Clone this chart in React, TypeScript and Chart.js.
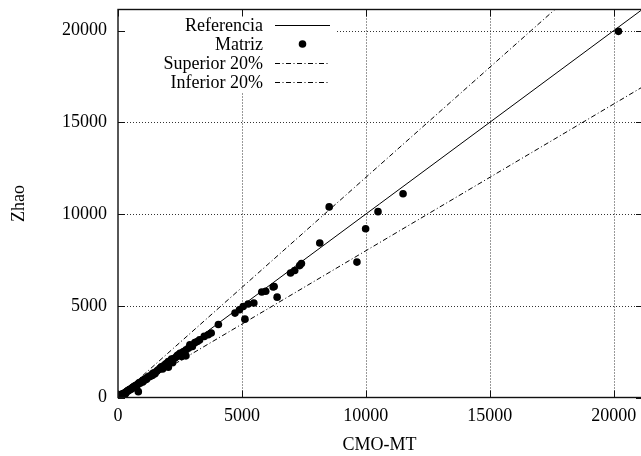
import React, { useEffect, useRef } from "react";
import { Chart, registerables } from "chart.js";

Chart.register(...registerables);

// ---- data ----
const cmoMt = [
  20190, 11500, 10490, 9990, 9640, 8520, 8140, 7400, 7330, 7130, 6960, 6420, 6300, 6260,
  5960, 5800, 5480, 5250, 5050, 4900, 4720, 5120, 4050, 3760, 3640, 3480, 3290, 3200, 3100,
  2900, 2750, 2740, 2650, 2600, 2570, 2500, 2400, 2370, 2250, 2200, 2160, 2030, 2030, 1900,
  1830, 1800, 1700, 1670, 1600, 1550, 1490, 1400, 1350, 1290, 1200, 1150, 1100, 1090, 1000,
  1000, 950, 890, 820, 800, 750, 700, 700, 650, 600, 550, 500, 450, 400, 350, 300, 300, 250,
  200, 150, 100, 80, 50, 10, 0,
  3000, 2850, 2450, 2300, 2100, 1950, 1750, 1450, 1250, 1050, 900, 850, 620, 480, 420, 380,
  330, 270, 220, 170, 120, 60, 30, 1380, 1150, 760, 560, 260,
];
const zhao = [
  19960, 11110, 10130, 9200, 7380, 10390, 8420, 7300, 7190, 6920, 6790, 5470, 6050, 6020,
  5790, 5750, 5150, 5100, 4960, 4780, 4600, 4270, 3980, 3520, 3420, 3330, 3140, 3050, 2990,
  2870, 2600, 2270, 2500, 2450, 2230, 2410, 2300, 2240, 2120, 1900, 2090, 1960, 1650, 1800,
  1720, 1550, 1600, 1540, 1480, 1420, 1290, 1300, 1230, 1140, 1100, 1050, 1000, 960, 920,
  850, 870, 780, 320, 730, 590, 650, 560, 600, 560, 500, 430, 420, 380, 320, 260, 200, 230,
  180, 190, 90, 60, 40, 10, 0,
  2780, 2700, 2330, 2150, 1980, 1850, 1680, 1350, 1150, 980, 820, 800, 570, 450, 370, 350,
  300, 240, 210, 150, 110, 70, 20, 1200, 1000, 680, 480, 180,
];
const lineX = [0, 21100];
const refSlope = 1.0;
const supSlope = 1.2;
const infSlope = 0.8;
const xTicks = [0, 5000, 10000, 15000, 20000];
const yTicks = [0, 5000, 10000, 15000, 20000];
const xMax = 21100;
const yMax = 21150;
const legendLabels = ["Referencia", "Matriz", "Superior 20%", "Inferior 20%"];

const FONT_FAMILY = '"Liberation Serif", "Times New Roman", serif';
const FONT_SIZE = 18;
const DASH_DOT = [5, 2.5, 1, 2.5];

const points = cmoMt.map((x, i) => ({ x, y: zhao[i] }));
const mkLine = (k: number) => lineX.map((x) => ({ x, y: x * k }));

const frame = {
  id: "gnuplotFrame",
  beforeDatasetsDraw(chart: any) {
    const { ctx, chartArea: a, scales } = chart;
    ctx.save();
    ctx.strokeStyle = "#333";
    ctx.lineWidth = 1;
    ctx.setLineDash([1, 2]);
    xTicks.forEach((v) => {
      if (v === 0) return;
      const px = Math.round(scales.x.getPixelForValue(v)) + 0.5;
      ctx.beginPath();
      ctx.moveTo(px, a.top);
      ctx.lineTo(px, a.bottom);
      ctx.stroke();
    });
    yTicks.forEach((v) => {
      if (v === 0) return;
      const py = Math.round(scales.y.getPixelForValue(v)) + 0.5;
      ctx.beginPath();
      ctx.moveTo(a.left, py);
      ctx.lineTo(a.right, py);
      ctx.stroke();
    });
    ctx.restore();
  },
  afterDatasetsDraw(chart: any) {
    const { ctx, chartArea: a, scales } = chart;
    ctx.save();
    // legend box (blanks the grid behind it)
    ctx.fillStyle = "#fff";
    ctx.fillRect(a.left + 1, a.top + 1, 336 - a.left, 91 - a.top);
    ctx.font = `${FONT_SIZE}px ${FONT_FAMILY}`;
    ctx.fillStyle = "#000";
    ctx.textAlign = "right";
    ctx.textBaseline = "middle";
    const rowY = [25, 44, 63, 82];
    const textRight = 263;
    const sx0 = 275;
    const sx1 = 330;
    legendLabels.forEach((lab, i) => {
      const y = rowY[i];
      ctx.fillText(lab, textRight, y + 1);
      ctx.strokeStyle = "#000";
      ctx.lineWidth = 1;
      if (i === 1) {
        ctx.beginPath();
        ctx.arc((sx0 + sx1) / 2, y, 3.8, 0, Math.PI * 2);
        ctx.fill();
      } else {
        ctx.setLineDash(i === 0 ? [] : DASH_DOT);
        ctx.beginPath();
        ctx.moveTo(sx0, y + 0.5);
        ctx.lineTo(sx1, y + 0.5);
        ctx.stroke();
        ctx.setLineDash([]);
      }
    });
    // border (right edge lies just beyond the canvas, as in the cropped original)
    ctx.strokeStyle = "#111";
    ctx.lineWidth = 1.4;
    ctx.strokeRect(a.left, a.top, a.right + 2 - a.left, a.bottom - a.top);
    // ticks (inward, mirrored)
    const tl = 7;
    ctx.lineWidth = 1;
    xTicks.forEach((v) => {
      const px = Math.round(scales.x.getPixelForValue(v)) + 0.5;
      ctx.beginPath();
      ctx.moveTo(px, a.bottom);
      ctx.lineTo(px, a.bottom - tl);
      ctx.moveTo(px, a.top);
      ctx.lineTo(px, a.top + tl);
      ctx.stroke();
    });
    yTicks.forEach((v) => {
      const py = Math.round(scales.y.getPixelForValue(v)) + 0.5;
      ctx.beginPath();
      ctx.moveTo(a.left, py);
      ctx.lineTo(a.left + tl, py);
      ctx.moveTo(a.right + 2, py);
      ctx.lineTo(a.right + 2 - tl, py);
      ctx.stroke();
    });
    ctx.restore();
  },
};

export default function App() {
  const ref = useRef<HTMLCanvasElement | null>(null);
  useEffect(() => {
    if (!ref.current) return;
    const font = { family: FONT_FAMILY, size: FONT_SIZE };
    const chart = new Chart(ref.current, {
      type: "scatter",
      data: {
        datasets: [
          {
            type: "line",
            label: legendLabels[0],
            data: mkLine(refSlope),
            borderColor: "#000",
            borderWidth: 1,
            pointRadius: 0,
            fill: false,
          } as any,
          {
            label: legendLabels[1],
            data: points,
            pointRadius: 3.8,
            pointHoverRadius: 3.8,
            backgroundColor: "#000",
            borderWidth: 0,
            showLine: false,
          },
          {
            type: "line",
            label: legendLabels[2],
            data: mkLine(supSlope),
            borderColor: "#000",
            borderWidth: 1,
            borderDash: DASH_DOT,
            pointRadius: 0,
            fill: false,
          } as any,
          {
            type: "line",
            label: legendLabels[3],
            data: mkLine(infSlope),
            borderColor: "#000",
            borderWidth: 1,
            borderDash: DASH_DOT,
            pointRadius: 0,
            fill: false,
          } as any,
        ],
      },
      options: {
        responsive: false,
        animation: false,
        events: [],
        layout: { autoPadding: false, padding: { top: 9.5, right: 0, bottom: 0, left: 0 } },
        plugins: { legend: { display: false }, tooltip: { enabled: false } },
        scales: {
          x: {
            type: "linear",
            min: 0,
            max: xMax,
            grid: { display: false },
            border: { display: false },
            afterBuildTicks: (s: any) => {
              s.ticks = xTicks.map((v) => ({ value: v }));
            },
            afterFit: (s: any) => {
              s.height = 58.5;
              s.paddingLeft = 0;
              s.paddingRight = 0;
            },
            ticks: {
              font,
              color: "#000",
              padding: 0,
              maxRotation: 0,
              autoSkip: false,
              callback: (v: any) => String(v),
            },
            title: {
              display: true,
              text: "CMO-MT",
              font,
              color: "#000",
              padding: { top: 0, bottom: 0 },
            },
          },
          y: {
            type: "linear",
            min: 0,
            max: yMax,
            grid: { display: false },
            border: { display: false },
            afterBuildTicks: (s: any) => {
              s.ticks = yTicks.map((v) => ({ value: v }));
            },
            afterFit: (s: any) => {
              s.width = 118;
              s.paddingTop = 0;
              s.paddingBottom = 0;
            },
            ticks: {
              font,
              color: "#000",
              padding: 3,
              autoSkip: false,
              callback: (v: any) => String(v),
            },
            title: {
              display: true,
              text: "Zhao",
              font,
              color: "#000",
              padding: { top: 8, bottom: 0 },
            },
          },
        },
      },
      plugins: [frame],
    } as any);
    return () => chart.destroy();
  }, []);
  return (
    <div style={{ position: "absolute", left: 0, top: 0, width: 641, height: 456, background: "#fff" }}>
      <canvas ref={ref} width={641} height={456} style={{ display: "block", width: 641, height: 456 }} />
    </div>
  );
}
